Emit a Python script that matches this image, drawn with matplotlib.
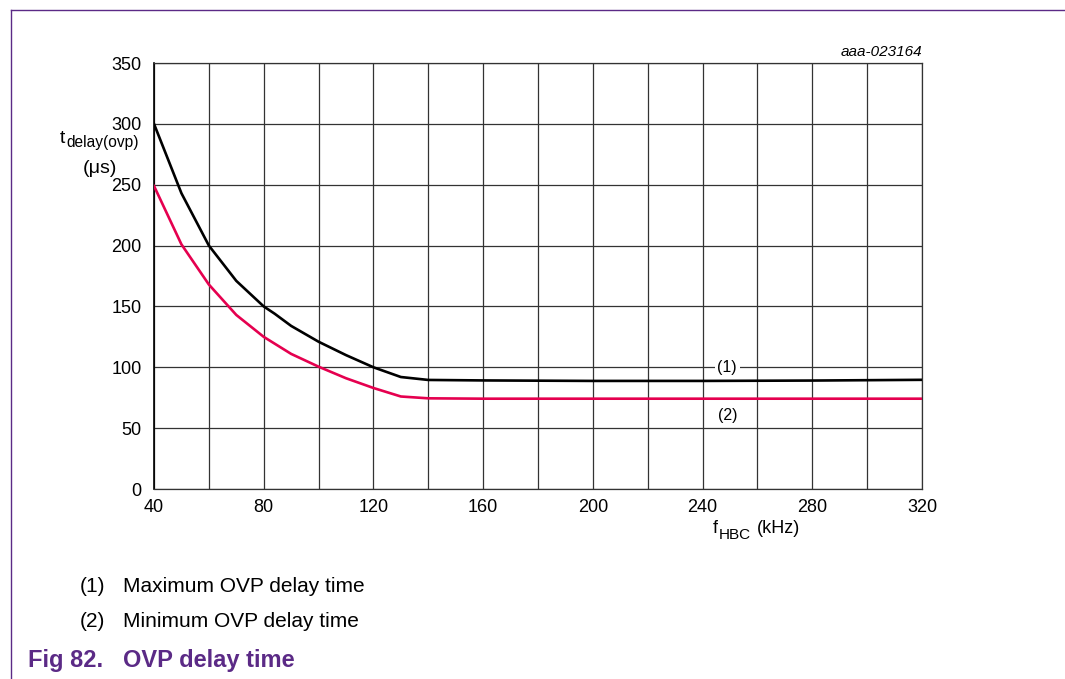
import numpy as np
import matplotlib.pyplot as plt

# OVP delay time vs HBC frequency
f_max = [40, 50, 60, 70, 80, 84, 90, 100, 110, 120, 130, 140, 160, 200, 240, 280, 320]
t_max = [300, 243, 200, 171, 150, 144, 134, 121, 110, 100, 92, 89.6, 89.2, 88.8, 88.8, 89.1, 89.7]

f_min = [40, 50, 60, 70, 80, 90, 100, 110, 120, 130, 140, 160, 200, 240, 280, 320]
t_min = [249, 201, 168, 143, 125, 111, 100.5, 91, 83, 76, 74.5, 74.2, 74.2, 74.2, 74.2, 74.2]

x_ticks = list(range(40, 321, 40))
y_ticks = list(range(0, 351, 50))
notes = ["Maximum OVP delay time", "Minimum OVP delay time"]

purple = '#5b2a86'
W, H = 1065, 679
plt.rcParams['font.family'] = ['Liberation Sans', 'DejaVu Sans']

def px(x, y):
    # pixel position (from top left) -> figure fraction
    return x / W, 1 - y / H

fig = plt.figure(figsize=(W/100, H/100), dpi=100)
ax = fig.add_axes([154/W, 1-489/H, 768/W, 426/H])

ax.plot(f_max, t_max, color='black', lw=1.9, zorder=3, solid_joinstyle='round')
ax.plot(f_min, t_min, color='#e5004f', lw=1.9, zorder=3, solid_joinstyle='round')

ax.set_xlim(40, 320)
ax.set_ylim(0, 350)
ax.set_xticks(x_ticks)
ax.set_yticks(y_ticks)
ax.set_xticks(range(40, 321, 20), minor=True)
ax.grid(True, which='both', color='#333333', lw=0.9)
ax.tick_params(which='both', length=0, labelsize=13)
ax.tick_params(axis='x', pad=7)
ax.tick_params(axis='y', pad=9)
for s in ['top', 'right', 'bottom']:
    ax.spines[s].set_color('#333333')
    ax.spines[s].set_linewidth(0.9)
ax.spines['left'].set_linewidth(1.2)

ax.text(249, 100, "(1)", ha='center', va='center', fontsize=11.5,
        bbox=dict(facecolor='white', edgecolor='none', pad=2), zorder=4)
ax.text(249, 60, "(2)", ha='center', va='center', fontsize=11.5, zorder=4)

fig.text(*px(922, 52), "aaa-023164", ha='right', va='center',
         fontsize=11, style='italic')

# y axis label: t_delay(ovp) (µs)
fig.text(*px(60, 143), "t", ha='left', va='baseline', fontsize=14)
fig.text(*px(66, 147), "delay(ovp)", ha='left', va='baseline', fontsize=11.2)
fig.text(*px(100, 173), "(μs)", ha='center', va='baseline', fontsize=14)

# x axis label: f_HBC (kHz)
fig.text(*px(713, 533), "f", ha='left', va='baseline', fontsize=13)
fig.text(*px(719, 539), "HBC", ha='left', va='baseline', fontsize=11)
fig.text(*px(757, 533), "(kHz)", ha='left', va='baseline', fontsize=13)

for i, n in enumerate(notes):
    yb = 592 + 35*i
    fig.text(*px(80, yb), "(%d)" % (i+1), ha='left', va='baseline', fontsize=15)
    fig.text(*px(123, yb), n, ha='left', va='baseline', fontsize=15)

fig.text(*px(28, 667), "Fig 82.", ha='left', va='baseline',
         fontsize=17, fontweight='bold', color=purple)
fig.text(*px(123, 667), "OVP delay time", ha='left', va='baseline',
         fontsize=17, fontweight='bold', color=purple)

# frame on top and left
fig.add_artist(plt.Line2D([11/W, 1], [1-10/H, 1-10/H], color=purple, lw=1))
fig.add_artist(plt.Line2D([11/W, 11/W], [0, 1-10/H], color=purple, lw=1))

fig.savefig('out.png', dpi=100)
